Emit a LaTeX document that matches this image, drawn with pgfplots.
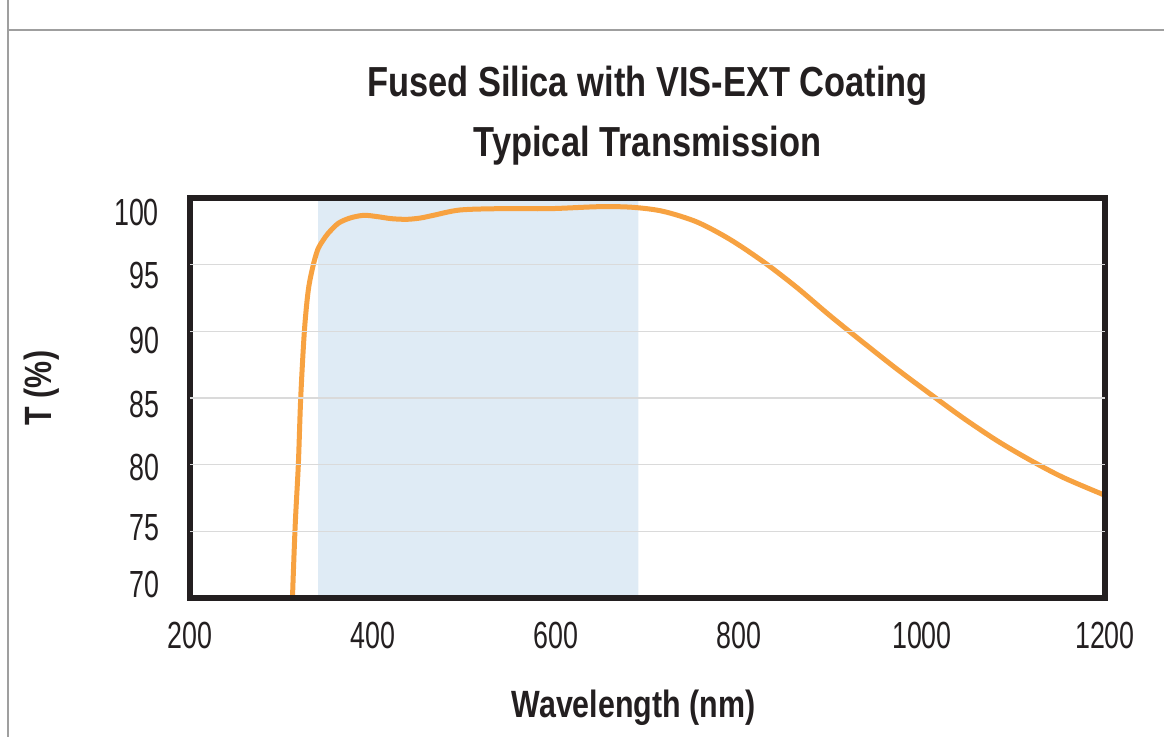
\documentclass[border=0pt]{standalone}
\usepackage{fontspec}
\setmainfont{Liberation Sans}[FakeStretch=0.71]
\newfontfamily\labfont{Liberation Sans}[FakeStretch=0.8]
\newfontfamily\titfont{Liberation Sans}[FakeStretch=0.82]
\usepackage{pgfplots}
\pgfplotsset{compat=1.18}
\definecolor{curvec}{HTML}{F7A241}
\definecolor{bandc}{HTML}{DFEBF5}
\definecolor{framec}{HTML}{231F20}
\definecolor{gridc}{HTML}{DADADA}
\begin{document}
\begin{tikzpicture}
\useasboundingbox (0pt,0pt) rectangle (582pt,368.5pt);
\draw[gray!75, line width=0.9pt] (4pt,0pt) -- (4pt,368.5pt);
\draw[gray!75, line width=0.9pt] (4pt,353.5pt) -- (582pt,353.5pt);
\begin{axis}[
  at={(95pt,69.5pt)}, anchor=south west,
  scale only axis, width=457.5pt, height=200pt,
  xmin=200, xmax=1200, ymin=70, ymax=100,
  xtick={200,400,...,1200},
  ytick={71,75.3,79.8,84.5,89.35,94.2,98.9},
  yticklabels={70,75,80,85,90,95,100},
  extra y ticks={75,80,85,90,95},
  extra y tick labels={},
  extra y tick style={grid=major},
  grid style={gridc, line width=0.8pt},
  axis line style={framec, line width=3pt},
  axis on top,
  tick style={draw=none},
  /pgf/number format/assume math mode=true,
  /pgf/number format/1000 sep={},
  ticklabel style={font=\fontsize{18.9}{21}\selectfont, text=framec},
  xticklabel style={yshift=-8.5pt},
  yticklabel style={xshift=-12pt},
  xlabel={Wavelength (nm)},
  xlabel style={at={(axis description cs:0.5,0)}, anchor=center, yshift=-55pt, xshift=-7pt, font=\labfont\bfseries\fontsize{19}{21}\selectfont, text=framec},
  ylabel={T (\%)},
  ylabel style={at={(axis description cs:0,0.5)}, anchor=center, yshift=74pt, xshift=5pt, font=\labfont\bfseries\fontsize{19}{21}\selectfont, text=framec},
  title={Fused Silica with VIS-EXT Coating\\Typical Transmission},
  title style={at={(axis description cs:0.5,1)}, anchor=center, yshift=35pt, align=center, font=\titfont\bfseries\fontsize{21}{30}\selectfont, text=framec},
]
\addplot[fill=bandc, draw=none] coordinates {(340,70) (340,100) (690,100) (690,70)} \closedcycle;
\addplot[curvec, line width=2.5pt, smooth, tension=0.5] coordinates {
(311.5,68) (312,70) (315,75.5) (318.4,80) (321,85) (325,90) (329.3,93.1)
(334.8,95) (340,96.2) (345.7,96.85) (351,97.35) (362,98.1) (375,98.5)
(390,98.7) (405,98.6) (420,98.45) (437,98.4) (452,98.5) (466,98.7)
(495,99.1) (539,99.2) (593,99.2) (648,99.35) (684,99.3) (717,99.0)
(754,98.2) (790,96.9) (827,95.2) (863,93.3) (899,91.2) (936,89.15)
(972,87.2) (1009,85.3) (1045,83.5) (1082,81.8) (1118,80.35) (1154,79.05)
(1200,77.7)
};
\end{axis}
\end{tikzpicture}
\end{document}
